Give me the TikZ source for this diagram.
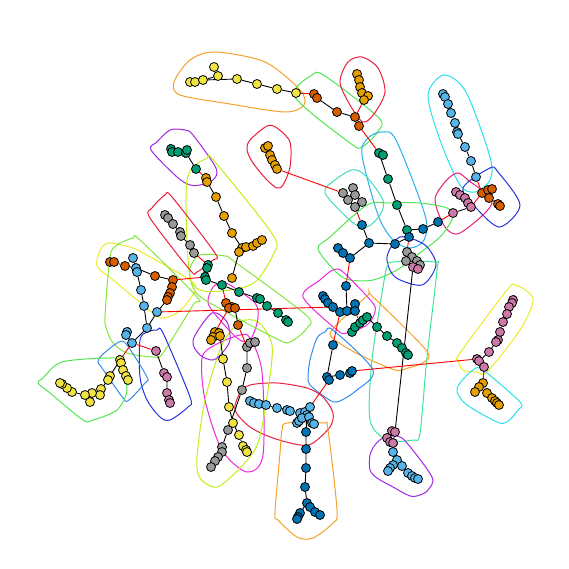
\documentclass[tikz,border=0pt]{standalone}
\usepackage{tikz}
\usetikzlibrary{backgrounds}

\definecolor{cbyellow}{HTML}{F0E442}
\definecolor{cborange}{HTML}{E69F00}
\definecolor{cbverm}{HTML}{D55E00}
\definecolor{cbsky}{HTML}{56B4E9}
\definecolor{cbblue}{HTML}{0072B2}
\definecolor{cbgreen}{HTML}{009E73}
\definecolor{cbpink}{HTML}{CC79A7}
\definecolor{cbgray}{HTML}{999999}

\definecolor{horange}{RGB}{245,160,40}
\definecolor{hgreen}{RGB}{80,230,80}
\definecolor{hgreenb}{RGB}{130,230,60}
\definecolor{hred}{RGB}{235,30,60}
\definecolor{hrose}{RGB}{230,30,120}
\definecolor{hcyan}{RGB}{40,225,235}
\definecolor{hskyb}{RGB}{40,175,235}
\definecolor{hblue}{RGB}{40,50,220}
\definecolor{hpurple}{RGB}{160,40,230}
\definecolor{hmagenta}{RGB}{235,40,220}
\definecolor{hlime}{RGB}{190,240,20}
\definecolor{hyellow}{RGB}{235,235,40}
\definecolor{hmint}{RGB}{60,230,150}
\definecolor{hteal}{RGB}{60,220,190}
\definecolor{hazure}{RGB}{50,140,240}

\tikzset{
  dot/.style={circle, draw=black, line width=0.8pt, inner sep=0pt, minimum size=9pt},
  yel/.style={dot, fill=cbyellow},
  ora/.style={dot, fill=cborange},
  ver/.style={dot, fill=cbverm},
  sky/.style={dot, fill=cbsky},
  blu/.style={dot, fill=cbblue},
  grn/.style={dot, fill=cbgreen},
  pnk/.style={dot, fill=cbpink},
  gry/.style={dot, fill=cbgray},
  link/.style={draw=black, line width=0.9pt},
  bridge/.style={draw=red, line width=0.9pt},
  hull/.style={line width=1pt}
}

\begin{document}
\begin{tikzpicture}[x=1pt, y=-1pt]
  \useasboundingbox (0,0) rectangle (569,569);

  % top yellow chain
  \node [yel] (yt1) at (190,82) {};
  \node [yel] (yt2) at (195,82) {};
  \node [yel] (yt3) at (203,80) {};
  \node [yel] (yt4) at (214,67) {};
  \node [yel] (yt5) at (218,76) {};
  \node [yel] (yt6) at (237,79) {};
  \node [yel] (yt7) at (257,84) {};
  \node [yel] (yt8) at (277,89) {};
  \node [yel] (yt9) at (296,93) {};
  % top vermillion
  \node [ver] (vt1) at (314,94) {};
  \node [ver] (vt2) at (317,98) {};
  \node [ver] (vt3) at (337,112) {};
  \node [ver] (vt4) at (355,117) {};
  \node [ver] (vt5) at (359,126) {};
  % top orange
  \node [ora] (ot1) at (357,74) {};
  \node [ora] (ot2) at (359,80) {};
  \node [ora] (ot3) at (360,87) {};
  \node [ora] (ot4) at (362,93) {};
  \node [ora] (ot5) at (368,96) {};
  \node [ora] (ot6) at (364,100) {};
  % dark green column
  \node [grn] (dd1) at (379,153) {};
  \node [grn] (dd2) at (383,155) {};
  \node [grn] (dd3) at (388,179) {};
  \node [grn] (dd4) at (397,205) {};
  \node [grn] (dd5) at (407,230) {};
  \node [blu] (bc1) at (409,237) {};
  \node [blu] (bc2) at (423,229) {};
  \node [blu] (bc3) at (438,222) {};
  % top right sky blue
  \node [sky] (st1) at (443,94) {};
  \node [sky] (st2) at (445,97) {};
  \node [sky] (st3) at (448,104) {};
  \node [sky] (st4) at (451,113) {};
  \node [sky] (st5) at (455,123) {};
  \node [sky] (st6) at (457,132) {};
  \node [sky] (st7) at (458,134) {};
  \node [sky] (st8) at (465,147) {};
  \node [sky] (st9) at (471,161) {};
  \node [sky] (st10) at (476,177) {};
  \node [ver] (vr1) at (482,193) {};
  \node [ver] (vr2) at (488,190) {};
  \node [ver] (vr3) at (492,189) {};
  \node [ver] (vr4) at (489,198) {};
  \node [ver] (vr5) at (498,204) {};
  \node [ver] (vr6) at (500,206) {};
  \node [pnk] (pr1) at (456,192) {};
  \node [pnk] (pr2) at (460,195) {};
  \node [pnk] (pr3) at (465,198) {};
  \node [pnk] (pr4) at (468,203) {};
  \node [pnk] (pr5) at (471,207) {};
  \node [pnk] (pr6) at (453,213) {};
  % gray in teal hull
  \node [gry] (gy1) at (343,193) {};
  \node [gry] (gy2) at (353,188) {};
  \node [gry] (gy3) at (355,195) {};
  \node [gry] (gy4) at (362,202) {};
  \node [gry] (gy5) at (355,207) {};
  \node [gry] (gy6) at (348,200) {};
  % centre blue
  \node [blu] (gc1) at (362,225) {};
  \node [blu] (gc2) at (369,243) {};
  \node [blu] (gc3) at (395,244) {};
  \node [blu] (gc4) at (338,248) {};
  \node [blu] (gc5) at (343,253) {};
  \node [blu] (gc6) at (350,258) {};
  % gray / pink knot
  \node [gry] (hg1) at (407,252) {};
  \node [gry] (hg2) at (412,257) {};
  \node [gry] (hg3) at (417,261) {};
  \node [gry] (hg4) at (420,265) {};
  \node [gry] (hg5) at (406,261) {};
  \node [pnk] (hg6) at (413,267) {};
  \node [pnk] (hg7) at (418,269) {};
  % magenta hull blues
  \node [blu] (mb1) at (323,296) {};
  \node [blu] (mb2) at (325,299) {};
  \node [blu] (mb3) at (328,303) {};
  \node [blu] (mb4) at (333,307) {};
  \node [blu] (mb5) at (340,312) {};
  \node [blu] (mb6) at (347,311) {};
  \node [blu] (mb7) at (355,304) {};
  \node [blu] (mb8) at (355,311) {};
  \node [blu] (mb9) at (346,286) {};
  % blue hull blues
  \node [blu] (nb1) at (333,345) {};
  \node [blu] (nb2) at (327,377) {};
  \node [blu] (nb3) at (329,380) {};
  \node [blu] (nb4) at (340,375) {};
  \node [blu] (nb5) at (350,373) {};
  \node [blu] (nb6) at (352,371) {};
  % dark green in orange hull
  \node [grn] (ec1) at (352,332) {};
  \node [grn] (ec2) at (355,327) {};
  \node [grn] (ec3) at (360,323) {};
  \node [grn] (ec4) at (363,320) {};
  \node [grn] (ec5) at (367,317) {};
  \node [grn] (ec6) at (377,327) {};
  \node [grn] (ec7) at (387,336) {};
  \node [grn] (ec8) at (397,343) {};
  \node [grn] (ec9) at (402,348) {};
  \node [grn] (ec10) at (406,353) {};
  \node [grn] (ec11) at (408,355) {};
  % bottom right
  \node [pnk] (pb1) at (392,431) {};
  \node [pnk] (pb2) at (395,432) {};
  \node [pnk] (pb3) at (387,438) {};
  \node [pnk] (pb4) at (390,442) {};
  \node [pnk] (pb5) at (393,443) {};
  \node [sky] (sb1) at (393,452) {};
  \node [sky] (sb2) at (397,460) {};
  \node [sky] (sb3) at (393,465) {};
  \node [sky] (sb4) at (390,468) {};
  \node [sky] (sb5) at (388,471) {};
  \node [sky] (sb6) at (402,466) {};
  \node [sky] (sb7) at (408,473) {};
  \node [sky] (sb8) at (412,476) {};
  \node [sky] (sb9) at (415,478) {};
  \node [sky] (sb10) at (418,479) {};
  % right pink / orange
  \node [pnk] (pq1) at (513,300) {};
  \node [pnk] (pq2) at (512,303) {};
  \node [pnk] (pq3) at (509,307) {};
  \node [pnk] (pq4) at (507,314) {};
  \node [pnk] (pq5) at (503,322) {};
  \node [pnk] (pq6) at (500,332) {};
  \node [pnk] (pq7) at (498,340) {};
  \node [pnk] (pq8) at (496,342) {};
  \node [pnk] (pq9) at (489,352) {};
  \node [pnk] (pq10) at (477,359) {};
  \node [pnk] (pq11) at (479,361) {};
  \node [pnk] (pq12) at (484,367) {};
  \node [ora] (oq1) at (483,383) {};
  \node [ora] (oq2) at (479,387) {};
  \node [ora] (oq3) at (475,392) {};
  \node [ora] (oq4) at (487,393) {};
  \node [ora] (oq5) at (492,398) {};
  \node [ora] (oq6) at (495,401) {};
  \node [ora] (oq7) at (497,403) {};
  \node [ora] (oq8) at (499,405) {};
  % bottom light blue / blue
  \node [sky] (lt1) at (250,401) {};
  \node [sky] (lt2) at (254,403) {};
  \node [sky] (lt3) at (259,404) {};
  \node [sky] (lt4) at (266,405) {};
  \node [sky] (lt5) at (277,408) {};
  \node [sky] (lt6) at (287,410) {};
  \node [sky] (lt7) at (290,411) {};
  \node [sky] (lt8) at (300,413) {};
  \node [sky] (lt9) at (305,412) {};
  \node [sky] (lt10) at (310,407) {};
  \node [sky] (lt11) at (307,415) {};
  \node [sky] (lt12) at (297,423) {};
  \node [sky] (lt13) at (299,421) {};
  \node [sky] (lt14) at (302,418) {};
  \node [sky] (lt15) at (309,417) {};
  \node [sky] (lt16) at (312,423) {};
  \node [sky] (lt17) at (314,424) {};
  \node [blu] (ub1) at (306,432) {};
  \node [blu] (ub2) at (306,449) {};
  \node [blu] (ub3) at (306,468) {};
  \node [blu] (ub4) at (305,487) {};
  \node [blu] (ub5) at (307,503) {};
  \node [blu] (ub6) at (310,507) {};
  \node [blu] (ub7) at (315,512) {};
  \node [blu] (ub8) at (320,515) {};
  \node [blu] (ub9) at (300,513) {};
  \node [blu] (ub10) at (298,517) {};
  \node [blu] (ub11) at (297,519) {};
  % bottom left gray / yellow
  \node [gry] (gb1) at (247,347) {};
  \node [gry] (gb2) at (250,343) {};
  \node [gry] (gb3) at (255,342) {};
  \node [gry] (gb4) at (247,368) {};
  \node [gry] (gb5) at (242,390) {};
  \node [gry] (gb6) at (228,430) {};
  \node [gry] (gb7) at (222,447) {};
  \node [gry] (gb8) at (222,452) {};
  \node [gry] (gb9) at (218,457) {};
  \node [gry] (gb10) at (215,461) {};
  \node [gry] (gb11) at (211,467) {};
  \node [yel] (yb1) at (223,359) {};
  \node [yel] (yb2) at (227,382) {};
  \node [yel] (yb3) at (229,407) {};
  \node [yel] (yb4) at (233,423) {};
  \node [yel] (yb5) at (239,435) {};
  \node [yel] (yb6) at (243,446) {};
  \node [yel] (yb7) at (246,450) {};
  \node [yel] (yb8) at (247,452) {};
  % orange in purple hull
  \node [ora] (zo1) at (215,332) {};
  \node [ora] (zo2) at (219,333) {};
  \node [ora] (zo3) at (213,337) {};
  \node [ora] (zo4) at (211,340) {};
  \node [ora] (zo5) at (220,336) {};
  % centre vermillion
  \node [ver] (fv1) at (226,303) {};
  \node [ver] (fv2) at (232,307) {};
  \node [ver] (fv3) at (229,308) {};
  \node [ver] (fv4) at (235,308) {};
  \node [ver] (fv5) at (238,325) {};
  % dark green, centre left
  \node [grn] (ag1) at (208,265) {};
  \node [grn] (ag2) at (207,268) {};
  \node [grn] (ag3) at (205,277) {};
  \node [grn] (ag4) at (206,280) {};
  \node [grn] (ag5) at (222,285) {};
  \node [grn] (ag6) at (239,292) {};
  \node [grn] (ag7) at (257,298) {};
  \node [grn] (ag8) at (260,299) {};
  \node [grn] (ag9) at (267,306) {};
  \node [grn] (ag10) at (278,313) {};
  \node [grn] (ag11) at (286,320) {};
  \node [grn] (ag12) at (288,322) {};
  % orange chain
  \node [ora] (jo1) at (206,178) {};
  \node [ora] (jo2) at (207,182) {};
  \node [ora] (jo3) at (216,197) {};
  \node [ora] (jo4) at (224,216) {};
  \node [ora] (jo5) at (232,233) {};
  \node [ora] (jo6) at (242,248) {};
  \node [ora] (jo7) at (239,252) {};
  \node [ora] (jo8) at (246,247) {};
  \node [ora] (jo9) at (253,246) {};
  \node [ora] (jo10) at (257,243) {};
  \node [ora] (jo11) at (262,240) {};
  \node [ora] (jo12) at (232,278) {};
  % dark green, top left
  \node [grn] (dg1) at (171,149) {};
  \node [grn] (dg2) at (172,152) {};
  \node [grn] (dg3) at (178,152) {};
  \node [grn] (dg4) at (186,153) {};
  \node [grn] (dg5) at (187,150) {};
  \node [grn] (dg6) at (196,169) {};
  % gray in red hull
  \node [gry] (gr1) at (165,215) {};
  \node [gry] (gr2) at (168,218) {};
  \node [gry] (gr3) at (173,224) {};
  \node [gry] (gr4) at (180,232) {};
  \node [gry] (gr5) at (181,236) {};
  \node [gry] (gr6) at (190,245) {};
  \node [gry] (gr7) at (194,253) {};
  % orange in red hull
  \node [ora] (or1) at (265,148) {};
  \node [ora] (or2) at (268,146) {};
  \node [ora] (or3) at (270,155) {};
  \node [ora] (or4) at (272,160) {};
  \node [ora] (or5) at (275,165) {};
  \node [ora] (or6) at (277,169) {};
  % left group
  \node [ver] (lv1) at (110,262) {};
  \node [ver] (lv2) at (114,262) {};
  \node [ver] (lv3) at (125,266) {};
  \node [ver] (lv4) at (155,276) {};
  \node [ver] (lv5) at (173,280) {};
  \node [ver] (lv6) at (172,287) {};
  \node [ver] (lv7) at (170,293) {};
  \node [ver] (lv8) at (168,297) {};
  \node [ver] (lv9) at (167,300) {};
  \node [sky] (lb1) at (133,258) {};
  \node [sky] (lb2) at (136,268) {};
  \node [sky] (lb3) at (137,272) {};
  \node [sky] (lb4) at (141,290) {};
  \node [sky] (lb5) at (144,306) {};
  \node [sky] (lb6) at (157,312) {};
  \node [sky] (lb7) at (147,328) {};
  \node [sky] (lb8) at (127,332) {};
  \node [sky] (lb9) at (126,335) {};
  \node [sky] (lb10) at (132,343) {};
  \node [pnk] (pl1) at (156,351) {};
  \node [pnk] (pl2) at (164,373) {};
  \node [pnk] (pl3) at (167,377) {};
  \node [pnk] (pl4) at (167,393) {};
  \node [pnk] (pl5) at (169,400) {};
  \node [pnk] (pl6) at (170,403) {};
  \node [yel] (yl1) at (120,360) {};
  \node [yel] (yl2) at (121,363) {};
  \node [yel] (yl3) at (123,370) {};
  \node [yel] (yl4) at (126,376) {};
  \node [yel] (yl5) at (128,380) {};
  \node [yel] (yl6) at (110,376) {};
  \node [yel] (yl7) at (108,380) {};
  \node [yel] (yl8) at (101,389) {};
  \node [yel] (yl9) at (100,395) {};
  \node [yel] (yl10) at (92,393) {};
  \node [yel] (yl11) at (90,402) {};
  \node [yel] (yl12) at (85,395) {};
  \node [yel] (yl13) at (72,392) {};
  \node [yel] (yl14) at (67,388) {};
  \node [yel] (yl15) at (62,384) {};
  \node [yel] (yl16) at (60,383) {};

  \begin{scope}[on background layer]
    % hulls
    \draw [hull, horange] plot [smooth cycle] coordinates {(174,82) (190,60) (215,52) (265,62) (300,90) (304,105) (285,112) (230,104) (180,95)};
    \draw [hull, hgreen] plot [smooth cycle] coordinates {(295,97) (312,75) (325,76) (378,117) (379,130) (362,147) (350,143)};
    \draw [hull, hred] plot [smooth cycle] coordinates {(340,82) (348,62) (362,57) (378,68) (385,92) (374,114) (363,122) (350,105)};
    \draw [hull, hskyb] plot [smooth cycle] coordinates {(362,155) (368,138) (382,132) (396,140) (425,215) (424,240) (410,248) (393,240) (378,215)};
    \draw [hull, hcyan] plot [smooth cycle] coordinates {(428,95) (444,75) (466,92) (490,157) (490,180) (475,192) (460,185) (440,140)};
    \draw [hull, hrose] plot [smooth cycle] coordinates {(435,200) (445,182) (457,173) (468,180) (492,203) (460,233) (445,227)};
    \draw [hull, hblue] plot [smooth cycle] coordinates {(463,188) (490,168) (498,172) (520,205) (500,227) (478,210)};
    \draw [hull, hteal] plot [smooth cycle] coordinates {(325,193) (335,180) (352,170) (365,175) (383,200) (380,215) (367,227) (352,222)};
    \draw [hull, hgreen] plot [smooth cycle] coordinates {(318,249) (330,237) (367,205) (390,203) (420,203) (447,208) (453,217) (440,237) (417,255) (397,270) (373,280) (350,280) (337,273)};
    \draw [hull, hblue] plot [smooth cycle] coordinates {(387,257) (400,237) (425,245) (436,265) (422,285) (395,277)};
    \draw [hull, hmint] plot [smooth cycle] coordinates {(387,267) (393,262) (435,262) (437,270) (427,357) (420,433) (413,440) (387,440) (370,420) (372,360) (383,287)};
    \draw [hull, hmagenta] plot [smooth cycle] coordinates {(303,297) (320,280) (333,270) (343,272) (372,302) (375,312) (367,325) (347,333) (337,330)};
    \draw [hull, horange] plot [smooth cycle] coordinates {(332,330) (367,296) (373,297) (426,350) (424,362) (408,368) (395,370) (360,355) (335,340)};
    \draw [hull, hazure] plot [smooth cycle] coordinates {(308,377) (310,360) (317,338) (325,332) (333,330) (373,370) (357,390) (337,402) (325,397) (310,385)};
    \draw [hull, hyellow] plot [smooth cycle] coordinates {(458,360) (460,353) (507,290) (515,285) (528,292) (533,302) (520,330) (487,372) (477,372) (463,370)};
    \draw [hull, hcyan] plot [smooth cycle] coordinates {(457,392) (460,383) (473,370) (483,370) (520,402) (518,410) (507,422) (497,422) (467,405)};
    \draw [hull, hred] plot [smooth cycle] coordinates {(235,410) (240,393) (250,385) (277,383) (307,388) (323,397) (333,413) (330,427) (313,443) (300,445) (273,438) (250,427)};
    \draw [hull, horange] plot [smooth cycle] coordinates {(287,423) (323,423) (328,430) (337,510) (333,523) (313,538) (297,537) (278,520) (275,513) (280,453) (282,430)};
    \draw [hull, hpurple] plot [smooth cycle] coordinates {(370,470) (370,455) (375,445) (383,438) (397,436) (407,443) (432,477) (428,490) (420,495) (410,496) (393,487) (377,478)};
    \draw [hull, hmagenta] plot [smooth cycle] coordinates {(202,358) (215,345) (240,335) (250,338) (262,372) (263,455) (247,472) (222,450) (205,400)};
    \draw [hull, hlime] plot [smooth cycle] coordinates {(197,457) (205,400) (222,345) (240,322) (258,322) (272,345) (268,390) (258,443) (240,468) (217,487) (200,478)};
    \draw [hull, hpurple] plot [smooth cycle] coordinates {(193,340) (212,313) (227,322) (230,340) (223,352) (213,360) (200,355)};
    \draw [hull, hmagenta] plot [smooth cycle] coordinates {(208,303) (213,287) (222,283) (230,285) (255,303) (258,318) (253,335) (247,342) (237,338) (220,320)};
    \draw [hull, hgreenb] plot [smooth cycle] coordinates {(190,268) (200,255) (225,256) (235,262) (306,315) (307,328) (290,342) (275,338) (205,300) (192,285)};
    \draw [hull, hpurple] plot [smooth cycle] coordinates {(151,150) (157,142) (170,130) (185,130) (193,135) (216,168) (213,180) (200,185) (190,185) (177,177)};
    \draw [hull, hlime] plot [smooth cycle] coordinates {(187,180) (207,158) (215,162) (273,235) (273,255) (255,282) (230,290) (200,290) (189,270)};
    \draw [hull, hred] plot [smooth cycle] coordinates {(150,218) (152,208) (165,195) (172,197) (215,253) (213,260) (197,272) (190,270)};
    \draw [hull, hred] plot [smooth cycle] coordinates {(247,150) (250,140) (267,126) (277,128) (290,142) (290,167) (283,185) (277,188) (267,180) (253,163)};
    \draw [hull, hyellow] plot [smooth cycle] coordinates {(97,260) (102,247) (110,243) (130,247) (143,253) (190,280) (195,290) (187,303) (177,313) (163,318) (153,313) (113,280) (98,268)};
    \draw [hull, hgreenb] plot [smooth cycle] coordinates {(107,330) (105,317) (110,257) (117,245) (133,238) (140,240) (197,297) (193,305) (163,353) (153,357) (127,353) (113,343)};
    \draw [hull, hblue] plot [smooth cycle] coordinates {(140,340) (147,332) (157,330) (163,333) (190,397) (188,407) (170,420) (160,417) (147,400) (140,377)};
    \draw [hull, hazure] plot [smooth cycle] coordinates {(98,362) (102,355) (119,342) (127,345) (147,377) (145,383) (129,400) (123,398) (102,368)};
    \draw [hull, hgreen] plot [smooth cycle] coordinates {(38,383) (43,378) (62,362) (110,358) (120,362) (127,390) (117,410) (93,420) (83,420) (50,393)};

    % links inside groups
    \draw [link] (yt1) -- (yt2) -- (yt3) -- (yt6) -- (yt7) -- (yt8) -- (yt9);
    \draw [link] (yt4) -- (yt5) -- (yt3);
    \draw [link] (vt1) -- (vt2) -- (vt3) -- (vt4) -- (vt5);
    \draw [link] (ot1) -- (ot2) -- (ot3) -- (ot4) -- (ot6);
    \draw [link] (ot5) -- (ot4);
    \draw [link] (dd1) -- (dd2);
    \draw [link] (dd1) -- (dd3) -- (dd4) -- (dd5) -- (bc1);
    \draw [link] (dd5) -- (bc2) -- (bc3);
    \draw [link] (st1) -- (st2) -- (st3) -- (st4) -- (st5) -- (st6) -- (st7) -- (st8) -- (st9) -- (st10);
    \draw [link] (vr1) -- (vr2) -- (vr3);
    \draw [link] (vr1) -- (vr4) -- (vr5) -- (vr6);
    \draw [link] (pr1) -- (pr2) -- (pr3) -- (pr4) -- (pr5) -- (pr6);
    \draw [link] (gy1) -- (gy6) -- (gy5);
    \draw [link] (gy2) -- (gy3) -- (gy4) -- (gy5);
    \draw [link] (gc1) -- (gc2) -- (gc3) -- (bc1);
    \draw [link] (gc2) -- (gc6);
    \draw [link] (gc4) -- (gc5) -- (gc6);
    \draw [link] (hg1) -- (hg2) -- (hg3) -- (hg4);
    \draw [link] (hg5) -- (hg2);
    \draw [link] (hg7) -- (hg6) -- (pb2);
    \draw [link] (mb1) -- (mb2) -- (mb3) -- (mb4) -- (mb5) -- (mb6) -- (mb7);
    \draw [link] (mb8) -- (mb6) -- (mb9);
    \draw [link] (nb1) -- (nb2) -- (nb4) -- (nb5) -- (nb6);
    \draw [link] (nb2) -- (nb3);
    \draw [link] (ec1) -- (ec2) -- (ec3) -- (ec4) -- (ec5) -- (ec6) -- (ec7) -- (ec8) -- (ec9) -- (ec10) -- (ec11);
    \draw [link] (pb1) -- (pb2) -- (pb5) -- (pb4) -- (pb3);
    \draw [link] (sb1) -- (sb2) -- (sb3) -- (sb4) -- (sb5);
    \draw [link] (sb2) -- (sb6) -- (sb7) -- (sb8) -- (sb9) -- (sb10);
    \draw [link] (pq1) -- (pq2) -- (pq3) -- (pq4) -- (pq5) -- (pq6) -- (pq7) -- (pq8) -- (pq9) -- (pq11) -- (pq12);
    \draw [link] (pq10) -- (pq11);
    \draw [link] (oq3) -- (oq2) -- (oq1) -- (oq4) -- (oq5) -- (oq6) -- (oq7) -- (oq8);
    \draw [link] (lt1) -- (lt2) -- (lt3) -- (lt4) -- (lt5) -- (lt6) -- (lt7) -- (lt8) -- (lt9) -- (lt11) -- (lt10);
    \draw [link] (lt11) -- (lt14) -- (lt13) -- (lt12);
    \draw [link] (lt11) -- (lt15) -- (lt16) -- (lt17);
    \draw [link] (lt11) -- (ub1) -- (ub2) -- (ub3) -- (ub4) -- (ub5) -- (ub6) -- (ub7) -- (ub8);
    \draw [link] (ub5) -- (ub9) -- (ub10) -- (ub11);
    \draw [link] (gb3) -- (gb2) -- (gb1) -- (gb4) -- (gb5) -- (gb6) -- (gb7) -- (gb8) -- (gb9) -- (gb10) -- (gb11);
    \draw [link] (zo5) -- (yb1) -- (yb2) -- (yb3) -- (yb4) -- (yb5) -- (yb6) -- (yb7) -- (yb8);
    \draw [link] (zo1) -- (zo2) -- (zo5);
    \draw [link] (zo1) -- (zo3) -- (zo4);
    \draw [link] (fv3) -- (fv1) -- (fv2) -- (fv4) -- (fv5);
    \draw [link] (ag1) -- (ag2) -- (ag3) -- (ag4) -- (ag5) -- (ag6) -- (ag7) -- (ag8) -- (ag9) -- (ag10) -- (ag11) -- (ag12);
    \draw [link] (jo1) -- (jo2) -- (jo3) -- (jo4) -- (jo5) -- (jo6) -- (jo8) -- (jo9) -- (jo10) -- (jo11);
    \draw [link] (jo6) -- (jo7) -- (jo12);
    \draw [link] (dg1) -- (dg2) -- (dg3) -- (dg4) -- (dg5);
    \draw [link] (dg4) -- (dg6);
    \draw [link] (gr1) -- (gr2) -- (gr3) -- (gr4) -- (gr5) -- (gr6) -- (gr7);
    \draw [link] (or1) -- (or3) -- (or4) -- (or5) -- (or6);
    \draw [link] (or2) -- (or3);
    \draw [link] (lv1) -- (lv2) -- (lv3) -- (lb2) -- (lv4) -- (lv5) -- (lv6) -- (lv7) -- (lv8) -- (lv9) -- (lb6) -- (lb7);
    \draw [link] (lb1) -- (lb2) -- (lb3) -- (lb4) -- (lb5) -- (lb7) -- (lb10);
    \draw [link] (lb8) -- (lb9) -- (lb10);
    \draw [link] (pl1) -- (pl2) -- (pl3) -- (pl4) -- (pl5) -- (pl6);
    \draw [link] (yl1) -- (yl2) -- (yl3) -- (yl4) -- (yl5);
    \draw [link] (yl1) -- (yl6) -- (yl7) -- (yl8) -- (yl9);
    \draw [link] (yl8) -- (yl10) -- (yl12) -- (yl13) -- (yl14) -- (yl15) -- (yl16);
    \draw [link] (yl10) -- (yl11);

    % links between groups
    \draw [bridge] (yt9) -- (vt1);
    \draw [bridge] (ot6) -- (vt4);
    \draw [bridge] (vt5) -- (dd1);
    \draw [bridge] (bc3) -- (pr6);
    \draw [bridge] (st10) -- (vr1);
    \draw [bridge] (pr5) -- (vr1);
    \draw [bridge] (or6) -- (gy1);
    \draw [bridge] (gy5) -- (gc1);
    \draw [bridge] (bc1) -- (hg1);
    \draw [bridge] (gc6) -- (mb9);
    \draw [bridge] (mb5) -- (nb1);
    \draw [bridge] (mb8) -- (ec3);
    \draw [bridge] (nb6) -- (pq10);
    \draw [bridge] (nb3) -- (lt10);
    \draw [bridge] (pb5) -- (sb1);
    \draw [bridge] (pq12) -- (oq1);
    \draw [bridge] (fv5) -- (gb1);
    \draw [bridge] (fv3) -- (zo1);
    \draw [bridge] (ag5) -- (fv1);
    \draw [bridge] (lv5) -- (ag3);
    \draw [bridge] (dg6) -- (jo1);
    \draw [bridge] (gr7) -- (ag1);
    \draw [bridge] (lb6) -- (mb4);
    \draw [bridge] (lb10) -- (pl1);
    \draw [bridge] (lb10) -- (yl1);
  \end{scope}
\end{tikzpicture}
\end{document}
